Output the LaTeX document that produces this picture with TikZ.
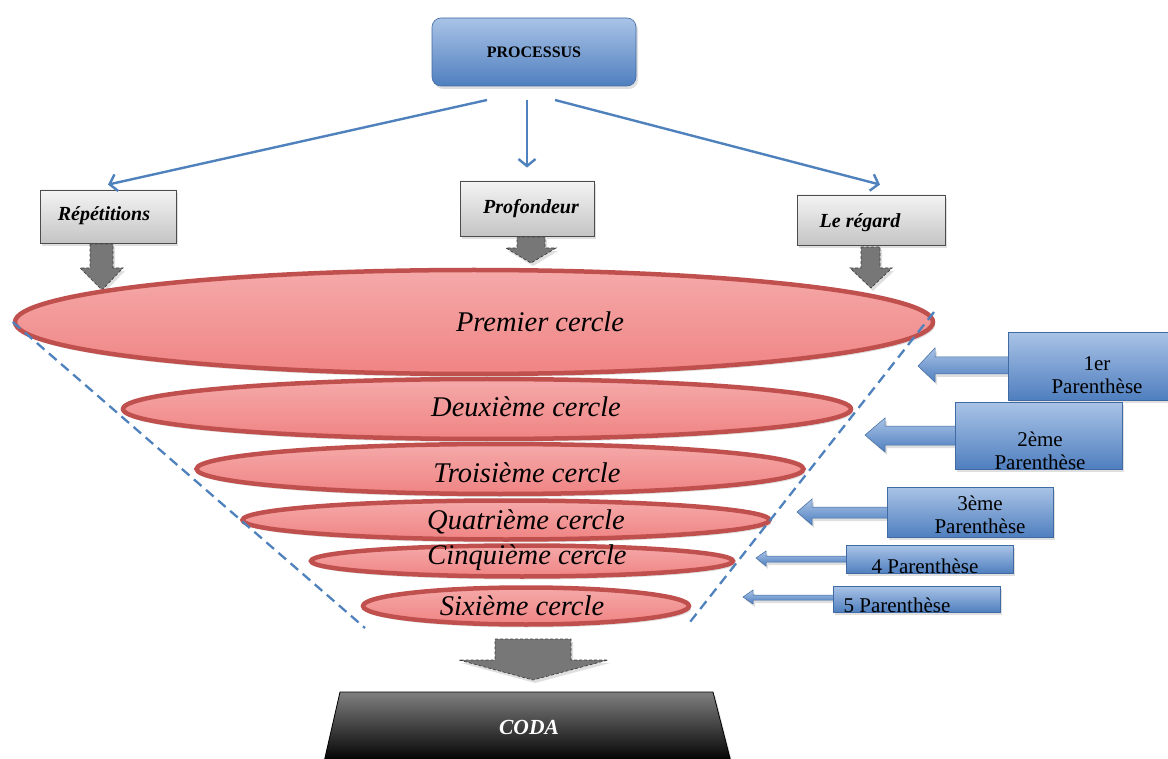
\documentclass[tikz,border=0pt]{standalone}
\usepackage{fontspec}
\setmainfont{Liberation Serif}
\usetikzlibrary{shapes.geometric,arrows.meta,shadows}
\definecolor{bT}{HTML}{A9C3E6}
\definecolor{bB}{HTML}{4F7FBF}
\definecolor{bE}{HTML}{3F6AA3}
\definecolor{gT}{HTML}{F4F4F4}
\definecolor{gB}{HTML}{C4C4C4}
\definecolor{pT}{HTML}{F5A9A9}
\definecolor{pB}{HTML}{F08484}
\definecolor{pE}{HTML}{C0504D}
\definecolor{ln}{HTML}{4F81BD}
\definecolor{ga}{HTML}{777777}
\begin{document}
\begin{tikzpicture}[x=1pt,y=-1pt,
  shad/.style={drop shadow={opacity=0.25,shadow xshift=2pt,shadow yshift=-3pt}},
  bluebox/.style={draw=bE, line width=0.6pt, top color=bT, bottom color=bB, inner sep=0pt, shad},
  graybox/.style={draw=black!70, line width=0.8pt, top color=gT, bottom color=gB, inner sep=0pt, shad},
  circ/.style={ellipse, draw=pE, line width=4.5pt, top color=pT, bottom color=pB, inner sep=0pt, shad},
  ctext/.style={font=\fontsize{28.5}{31}\selectfont\itshape},
  tagtext/.style={font=\fontsize{20}{23}\selectfont\bfseries\itshape},
  ptext/.style={font=\fontsize{21}{23}\selectfont, align=center, inner sep=0pt},
  procarrow/.style={draw=ln, line width=2.4pt, -{Straight Barb[length=7pt,width=17pt]}},
  downarrow/.style={fill=ga, draw=black!75, densely dashed, line width=0.7pt, shad},
  guide/.style={draw=ln, line width=2.3pt, dash pattern=on 10pt off 6pt},
  parrow/.style={top color=bT, bottom color=bB, draw=bE, line width=0.5pt, shad}
]
\useasboundingbox (0,0) rectangle (1168,759);

% top process box
\node[bluebox, rounded corners=9pt, minimum width=204pt, minimum height=68pt,
      font=\fontsize{16}{18}\selectfont\bfseries] (proc) at (534,52) {PROCESSUS};

% three category boxes
\node[graybox, minimum width=136pt, minimum height=53pt] (rep) at (108,216.5) {};
\node[tagtext] (repT) at (104,216) {Répétitions};
\node[graybox, minimum width=134pt, minimum height=55pt] (prof) at (527,208.5) {};
\node[tagtext] (profT) at (531,209) {Profondeur};
\node[graybox, minimum width=148pt, minimum height=50pt] (reg) at (871,220) {};
\node[tagtext] (regT) at (860,223) {Le régard};

\coordinate (p1) at (487,100);
\coordinate (p2) at (527,100);
\coordinate (p3) at (555,100);
\draw[procarrow] (p1) -- ([yshift=5pt]rep.north);
\draw[procarrow] (p2) -- ([yshift=13pt]prof.north);
\draw[procarrow] (p3) -- ([xshift=9pt,yshift=10pt]reg.north);

% gray down arrows
\path[downarrow] (90,244) -- (113,244) -- (113,268) -- (123,268) -- (102,290) -- (80,268) -- (90,268) -- cycle;
\path[downarrow] (517,237) -- (545,237) -- (545,248) -- (556,248) -- (531,263) -- (506,248) -- (517,248) -- cycle;
\path[downarrow] (861,247) -- (880,247) -- (880,268) -- (892,268) -- (871,288) -- (850,268) -- (861,268) -- cycle;

% circles
\node[circ, minimum width=918pt, minimum height=104pt] (c1) at (474,322) {};
\node[circ, minimum width=728pt, minimum height=60pt] (c2) at (487,409) {};
\node[circ, minimum width=607pt, minimum height=50pt] (c3) at (500,469) {};
\node[circ, minimum width=527pt, minimum height=39pt] (c4) at (506,520) {};
\node[circ, minimum width=422pt, minimum height=31pt] (c5) at (522,561) {};
\node[circ, minimum width=326pt, minimum height=37pt] (c6) at (526,606) {};

\node[ctext] (t1) at (540,322) {Premier cercle};
\node[ctext] (t2) at (526,407) {Deuxième cercle};
\node[ctext] (t3) at (527,473) {Troisième cercle};
\node[ctext] (t4) at (526,522) {Quatrième cercle};
\node[ctext] (t5) at (527,558) {Cinquième cercle};
\node[ctext] (t6) at (522,606) {Sixième cercle};

% dashed funnel lines
\coordinate (fl) at (365,628);
\coordinate (fr0) at (934,312);
\coordinate (fr) at (690,622);
\draw[guide] (c1.west) -- (fl);
\draw[guide] (fr0) -- (fr);

% parenthese boxes with arrows
\path[parrow] (1010,357) -- (935,357) -- (935,348) -- (918,366) -- (935,382) -- (935,374) -- (1010,374) -- cycle;
\node[bluebox, minimum width=162pt, minimum height=68pt, anchor=north west] (b1) at (1008,332) {};
\node[ptext] (l1) at (1097,375) {1er\\Parenthèse};

\path[parrow] (957,426) -- (885,426) -- (885,418) -- (865,435) -- (885,452) -- (885,445) -- (957,445) -- cycle;
\node[bluebox, minimum width=167pt, minimum height=67pt, anchor=north west] (b2) at (955,402) {};
\node[ptext] (l2) at (1040,451) {2ème\\Parenthèse};

\path[parrow] (889,507) -- (812,507) -- (812,499) -- (797,512) -- (812,525) -- (812,518) -- (889,518) -- cycle;
\node[bluebox, minimum width=166pt, minimum height=50pt, anchor=north west] (b3) at (887,487) {};
\node[ptext] (l3) at (980,515) {3ème\\Parenthèse};

\path[parrow] (848,556) -- (766,556) -- (766,551) -- (756,558) -- (766,566) -- (766,562) -- (848,562) -- cycle;
\node[bluebox, minimum width=167pt, minimum height=28pt, anchor=north west] (b4) at (846,545) {};
\begin{scope}
\clip (b4.north west) rectangle (b4.south east);
\node[ptext, anchor=base] (l4) at (925,573) {4 Parenthèse};
\end{scope}

\path[parrow] (835,595) -- (753,595) -- (753,590) -- (743,597) -- (753,604) -- (753,600) -- (835,600) -- cycle;
\node[bluebox, minimum width=167pt, minimum height=26pt, anchor=north west] (b5) at (833,586) {};
\begin{scope}
\clip (b5.north west) rectangle (b5.south east);
\node[ptext, anchor=base] (l5) at (897,612) {5 Parenthèse};
\end{scope}

% coda arrow and box
\path[downarrow] (495,639) -- (571,639) -- (571,660) -- (608,660) -- (533,680) -- (459,660) -- (495,660) -- cycle;
\path[draw=black, line width=0.8pt, top color=black!50, bottom color=black, shad]
  (340,692) -- (713,692) -- (731,762) -- (324,762) -- cycle;
\node[font=\fontsize{21.5}{24}\selectfont\bfseries\itshape, text=white] (coda) at (529,727) {CODA};
\end{tikzpicture}
\end{document}
